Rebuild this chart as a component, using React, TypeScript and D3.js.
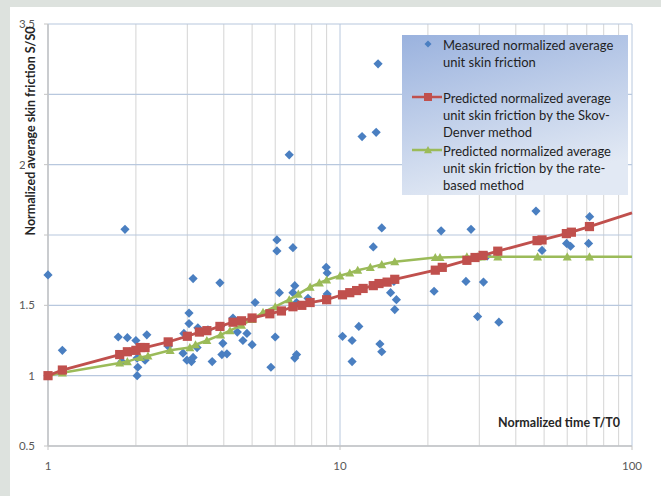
import React from "react";
import * as d3 from "d3";

const measuredX = [1.0, 1.0, 1.12, 1.835, 1.74, 1.87, 2.0, 2.18, 1.79, 1.9, 2.02, 2.03, 2.02, 2.15, 2.58, 3.04, 3.04, 2.92, 3.14, 3.88, 2.9, 2.99, 3.14, 3.1, 3.24, 3.65, 3.9, 3.97, 3.94, 4.1, 3.53, 4.3, 4.45, 3.26, 4.8, 4.65, 5.0, 5.12, 6.08, 6.08, 6.9, 6.2, 7.0, 6.9, 7.1, 7.77, 8.97, 9.04, 9.04, 6.0, 5.8, 7.0, 7.1, 10.2, 11.0, 11.6, 11.0, 13.9, 13.0, 14.9, 15.3, 15.4, 15.6, 13.7, 13.9, 13.5, 11.9, 13.3, 6.7, 22.2, 28.1, 46.9, 71.6, 71.0, 59.7, 61.6, 49.2, 31.9, 21.0, 27.0, 31.0, 29.6, 35.0];
const measuredY = [1.0, 1.716, 1.18, 2.04, 1.275, 1.27, 1.25, 1.29, 1.1, 1.17, 1.125, 1.06, 1.0, 1.11, 1.21, 1.445, 1.37, 1.3, 1.69, 1.66, 1.16, 1.11, 1.13, 1.1, 1.2, 1.1, 1.35, 1.23, 1.15, 1.155, 1.325, 1.41, 1.31, 1.34, 1.3, 1.25, 1.22, 1.52, 1.965, 1.887, 1.91, 1.59, 1.64, 1.59, 1.52, 1.55, 1.77, 1.73, 1.58, 1.275, 1.06, 1.125, 1.15, 1.28, 1.25, 1.35, 1.1, 2.05, 1.915, 1.59, 1.67, 1.47, 1.54, 1.225, 1.17, 3.217, 2.7, 2.73, 2.57, 2.03, 2.04, 2.17, 2.13, 1.94, 1.94, 1.92, 1.89, 1.85, 1.6, 1.67, 1.665, 1.42, 1.38];

const skovX = [1, 1.12, 1.76, 1.87, 2.0, 2.07, 2.15, 2.58, 3.0, 3.3, 3.5, 3.88, 4.3, 4.6, 5.0, 5.75, 6.3, 6.9, 7.4, 7.9, 9.0, 10.2, 10.8, 11.4, 12.0, 13.0, 13.6, 14.5, 15.4, 21.2, 22.4, 27.2, 29.0, 30.9, 34.7, 47.3, 49.2, 59.6, 62.0, 71.5, 100];
const skovY = [1.0, 1.04, 1.15, 1.17, 1.18, 1.2, 1.2, 1.24, 1.28, 1.31, 1.32, 1.35, 1.38, 1.39, 1.41, 1.44, 1.46, 1.49, 1.5, 1.52, 1.54, 1.575, 1.59, 1.605, 1.62, 1.64, 1.655, 1.665, 1.685, 1.75, 1.77, 1.82, 1.84, 1.855, 1.885, 1.96, 1.965, 2.01, 2.02, 2.06, 2.157];

const rateX = [1, 1.12, 1.76, 1.87, 2.07, 2.2, 2.62, 3.06, 3.2, 3.5, 3.9, 4.2, 4.6, 5.0, 5.45, 6.0, 6.7, 7.2, 7.9, 8.5, 9.0, 10.0, 10.8, 11.5, 12.7, 13.9, 15.4, 21.2, 22.0, 27.2, 29.5, 30.5, 34.7, 47.5, 60, 71.5, 100];
const rateY = [1.0, 1.02, 1.09, 1.1, 1.13, 1.14, 1.18, 1.2, 1.22, 1.25, 1.29, 1.32, 1.36, 1.4, 1.45, 1.49, 1.54, 1.58, 1.63, 1.66, 1.68, 1.71, 1.73, 1.75, 1.77, 1.79, 1.81, 1.84, 1.84, 1.845, 1.845, 1.845, 1.845, 1.845, 1.845, 1.845, 1.845];

const yTicks = [0.5, 1, 1.5, 2, 2.5, 3, 3.5];
const xMajor = [1, 10, 100];
const xMinor = [2, 3, 4, 5, 6, 7, 8, 9, 20, 30, 40, 50, 60, 70, 80, 90];

const legendItems = [
  ["Measured normalized average", "unit skin friction"],
  ["Predicted normalized average", "unit skin friction by the Skov-", "Denver method"],
  ["Predicted normalized average", "unit skin friction by the rate-", "based method"],
];

const BLUE = "#4a7fc1";
const RED = "#c0504d";
const GREEN = "#9bbb59";
const FONT = "Lato, 'Open Sans', sans-serif";

export default function App() {
  const x = d3.scaleLog().domain([1, 100]).range([48, 632]);
  const y = d3.scaleLinear().domain([0.5, 3.5]).range([446, 24]);
  const line = d3
    .line<[number, number]>()
    .x((d) => x(d[0]))
    .y((d) => y(d[1]));
  const skov: [number, number][] = skovX.map((v, i) => [v, skovY[i]]);
  const rate: [number, number][] = rateX.map((v, i) => [v, rateY[i]]);
  const meas: [number, number][] = measuredX.map((v, i) => [v, measuredY[i]]);
  const diamond = (s: number) => `M0,${-s}L${s},0L0,${s}L${-s},0Z`;
  const tri = (s: number) => `M0,${-s}L${s},${s * 0.8}L${-s},${s * 0.8}Z`;

  const lx = 402, ly = 35, lw = 226, lh = 160;
  const lineH = 17;
  const itemTop = [45, 98, 151];

  return (
    <svg width={661} height={496} style={{ position: "fixed", left: 0, top: 0 }} fontFamily={FONT}>
      <defs>
        <linearGradient id="lg" x1="0" y1="0" x2="0.35" y2="1">
          <stop offset="0" stopColor="#9ab2de" />
          <stop offset="1" stopColor="#e2e9f4" />
        </linearGradient>
      </defs>
      <rect x={0} y={0} width={661} height={496} fill="#dde2de" />
      <rect x={10} y={7} width={651} height={489} fill="#ffffff" />

      {xMinor.map((v) => (
        <line key={"mn" + v} x1={x(v)} x2={x(v)} y1={24} y2={446} stroke="#d4d4d4" strokeWidth={1} />
      ))}
      {xMajor.map((v) => (
        <line key={"mj" + v} x1={x(v)} x2={x(v)} y1={24} y2={446} stroke="#b8c8de" strokeWidth={1} />
      ))}
      {yTicks.map((v) => (
        <line key={"h" + v} x1={48} x2={632} y1={y(v)} y2={y(v)} stroke="#b8c8de" strokeWidth={1.2} />
      ))}
      <line x1={48} x2={48} y1={24} y2={446} stroke="#c4c4c4" strokeWidth={1.5} />
      <line x1={48} x2={632} y1={446} y2={446} stroke="#c4c4c4" strokeWidth={1.5} />
      {yTicks.map((v) => (
        <line key={"yt" + v} x1={44} x2={48} y1={y(v)} y2={y(v)} stroke="#c4c4c4" />
      ))}
      {xMajor.map((v) => (
        <line key={"xt" + v} x1={x(v)} x2={x(v)} y1={446} y2={450} stroke="#c4c4c4" />
      ))}

      {yTicks.map((v) => (
        <text key={"yl" + v} x={35} y={y(v) + 4} textAnchor="end" fontSize={11.5} fill="#595959">
          {String(v)}
        </text>
      ))}
      {xMajor.map((v) => (
        <text key={"xl" + v} x={x(v)} y={470} textAnchor="middle" fontSize={11.5} fill="#595959">
          {String(v)}
        </text>
      ))}

      <text x={620} y={427} textAnchor="end" fontSize={12.5} fontWeight="bold" fill="#262626">
        Normalized time T/T0
      </text>
      <rect x={25} y={28} width={11} height={214} fill="#ffffff" />
      <text
        transform={`translate(35,131) rotate(-90)`}
        textAnchor="middle"
        fontSize={12.5}
        fontWeight="bold"
        fill="#262626"
      >
        Normalized average skin friction S/S0
      </text>

      {meas.map((d, i) => (
        <path key={"m" + i} d={diamond(4.6)} transform={`translate(${x(d[0])},${y(d[1])})`} fill={BLUE} />
      ))}

      <path d={line(rate) || ""} fill="none" stroke={GREEN} strokeWidth={2.5} />
      {rate.filter((d) => d[0] < 100).map((d, i) => (
        <path key={"g" + i} d={tri(4.5)} transform={`translate(${x(d[0])},${y(d[1])})`} fill={GREEN} />
      ))}
      <path d={line(skov) || ""} fill="none" stroke={RED} strokeWidth={2.8} />
      {skov.filter((d) => d[0] < 100).map((d, i) => (
        <rect key={"r" + i} x={x(d[0]) - 4.6} y={y(d[1]) - 4.6} width={9.2} height={9.2} fill={RED} />
      ))}

      <rect x={lx} y={ly} width={lw} height={lh} fill="url(#lg)" />
      <path d={diamond(3.5)} transform={`translate(428,${itemTop[0] - 1})`} fill={BLUE} />
      <line x1={412} x2={442} y1={itemTop[1] - 1} y2={itemTop[1] - 1} stroke={RED} strokeWidth={2.5} />
      <rect x={424} y={itemTop[1] - 5} width={8} height={8} fill={RED} />
      <line x1={412} x2={442} y1={itemTop[2] - 1} y2={itemTop[2] - 1} stroke={GREEN} strokeWidth={2.5} />
      <path d={tri(4)} transform={`translate(428,${itemTop[2] - 1})`} fill={GREEN} />
      {legendItems.map((lines, i) =>
        lines.map((t, j) => (
          <text key={"lt" + i + j} x={443} y={itemTop[i] + 4.5 + j * lineH} fontSize={13} fill="#1f1f1f">
            {t}
          </text>
        ))
      )}
    </svg>
  );
}
